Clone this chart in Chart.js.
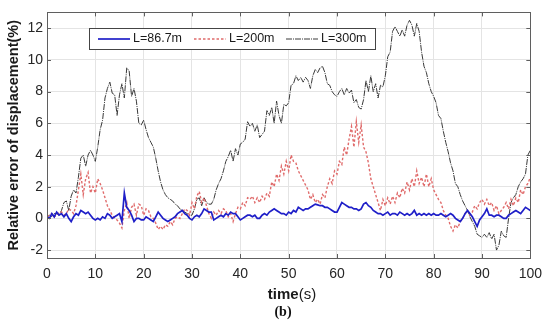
<!DOCTYPE html>
<html lang="en">
<head>
    <meta charset="UTF-8">
    <title>Relative error of displacement</title>
    <script src="https://cdn.jsdelivr.net/npm/chart.js"></script>
    <style>
        body {
            margin: 0;
            background: #fff;
        }
        .wrap {
            position: relative;
            width: 550px;
            height: 323px;
            font-family: "Liberation Sans", Arial, sans-serif;
        }
        #chart {
            position: absolute;
            left: 0;
            top: 0;
        }
        .xtitle {
            position: absolute;
            left: 292px;
            top: 285px;
            transform: translateX(-50%);
            font-size: 15px;
            line-height: 17px;
            color: #1a1a1a;
            white-space: nowrap;
        }
        .xtitle b { font-weight: bold; }
        .caption {
            position: absolute;
            left: 283px;
            top: 304px;
            transform: translateX(-50%);
            font-family: "Liberation Serif", "Times New Roman", serif;
            font-weight: bold;
            font-size: 14px;
            line-height: 16px;
            color: #111;
        }
    </style>
</head>
<body>
    <div class="wrap">
        <canvas id="chart" width="550" height="323"></canvas>
        <div class="xtitle"><b>time</b>(s)</div>
        <div class="caption">(b)</div>
    </div>

    <script>
        // sampled every 0.5 s, from 0 to 100 s
        const step = 0.5;
        const xTicks = [0, 10, 20, 30, 40, 50, 60, 70, 80, 90, 100];
        const yTicks = [-2, 0, 2, 4, 6, 8, 10, 12];
        const seriesNames = ['L=86.7m', 'L=200m', 'L=300m'];

        const l867 = [
            0.1, 0.0, 0.3, 0.1, 0.4, 0.2, 0.3, 0.1, 0.3, 0.0,
            -0.2, 0.1, 0.3, 0.2, 0.5, 0.4, 0.3, 0.4, 0.2, 0.0,
            -0.1, 0.0, -0.1, 0.1, 0.0, 0.3, 0.2, 0.0, 0.1, 0.2,
            0.3, -0.2, 1.6, 0.7, 0.5, 0.2, -0.2, 0.0, 0.0, -0.1,
            -0.1, 0.1, 0.0, -0.1, -0.2, 0.1, 0.4, 0.2, 0.0, -0.1,
            -0.2, -0.1, 0.0, 0.1, 0.3, 0.4, 0.5, 0.3, 0.2, 0.0,
            -0.1, 0.1, 0.2, 0.1, 0.3, 0.6, 0.5, 0.4, 0.4, -0.1,
            0.0, 0.1, 0.2, 0.1, 0.3, 0.2, 0.4, 0.3, 0.3, 0.1,
            -0.1, 0.0, 0.1, 0.2, 0.2, 0.1, 0.2, 0.0, 0.0, 0.2,
            0.3, 0.2, 0.4, 0.5, 0.6, 0.5, 0.4, 0.3, 0.3, 0.2,
            0.4, 0.3, 0.5, 0.4, 0.7, 0.6, 0.5, 0.6, 0.6, 0.7,
            0.8, 0.9, 0.85, 0.8, 0.8, 0.7, 0.7, 0.6, 0.5, 0.4,
            0.4, 0.7, 1.0, 0.9, 0.8, 0.7, 0.7, 0.6, 0.6, 0.5,
            0.6, 0.9, 1.0, 0.8, 0.7, 0.5, 0.4, 0.3, 0.3, 0.2,
            0.3, 0.4, 0.2, 0.3, 0.3, 0.2, 0.4, 0.3, 0.2, 0.3,
            0.2, 0.3, 0.5, 0.2, 0.3, 0.2, 0.3, 0.2, 0.3, 0.2,
            0.3, 0.2, 0.2, 0.3, 0.2, 0.1, 0.2, 0.3, 0.2, 0.0,
            -0.1, -0.2, 0.0, 0.3, 0.5, 0.3, 0.1, -0.2, -0.5, -0.1,
            0.1, 0.3, 0.6, 0.2, 0.2, 0.1, 0.2, 0.2, 0.1, 0.0,
            0.0, 0.2, 0.3, 0.4, 0.5, 0.4, 0.3, 0.5, 0.7, 0.6,
            0.5
        ];

        const l200 = [
            0.1, 0.2, 0.3, 0.1, 0.2, 0.4, 0.4, 0.2, 0.3, 0.6,
            0.5, 0.3, 0.8, 1.8, 2.8, 1.5, 2.5, 2.9, 1.6, 2.0,
            1.6, 2.5, 2.2, 1.8, 1.3, 0.8, 0.5, 0.2, 0.0, -0.1,
            -0.3, -0.6, 0.5, 1.0, 0.0, 0.7, 0.9, 0.2, 0.9, 0.8,
            0.2, 0.6, 0.5, 0.1, 0.0, -0.3, -0.7, -0.5, -0.7, -0.4,
            -0.5, -0.2, -0.4, 0.0, 0.1, 0.0, 0.3, 0.6, 0.5, 0.2,
            1.0, 0.6, 1.4, 1.7, 1.0, 1.3, 0.8, 0.3, 0.0, 0.4,
            0.2, 0.5, 0.3, 0.6, 0.5, 0.1, 0.3, -0.2, 0.3, 0.7,
            0.6, 1.0, 0.8, 1.3, 1.2, 1.4, 1.0, 1.3, 1.0, 1.4,
            1.2, 1.6, 1.4, 2.3, 2.0, 2.8, 2.4, 3.3, 2.8, 3.6,
            3.0, 4.0, 3.6, 3.5, 3.0, 2.7, 2.4, 2.1, 1.8, 1.2,
            1.5, 1.0, 1.2, 0.9, 1.5, 1.3, 2.0, 2.5, 2.2, 3.0,
            2.8, 3.6, 3.4, 4.5, 4.0, 5.0, 5.8, 4.5, 6.1, 4.8,
            5.9, 4.5, 4.2, 3.5, 2.5, 2.0, 1.5, 1.0, 0.5, 1.2,
            0.8, 1.3, 0.9, 1.4, 1.0, 1.6, 1.3, 1.9, 1.6, 2.3,
            1.8, 2.5, 2.0, 3.0, 2.2, 2.6, 2.0, 2.8, 2.0, 2.5,
            1.8, 1.5, 1.2, 1.0, 0.5, 0.2, 0.0, -0.5, -0.8, -0.4,
            -0.6, -0.2, 0.0, 0.3, 0.5, 0.2, 0.4, 0.8, 0.6, 1.0,
            1.2, 0.9, 1.2, 0.8, 1.0, 0.5, 0.8, 0.3, 0.5, 0.7,
            1.0, 0.6, 1.2, 0.8, 1.3, 1.0, 1.8, 1.5, 2.0, 2.2,
            2.6
        ];

        const l300 = [
            0.1, 0.2, 0.1, 0.3, 0.3, 0.2, 0.5, 1.0, 1.1, 0.5,
            1.4, 1.8, 1.6, 2.6, 3.8, 4.0, 3.3, 4.0, 4.3, 4.0,
            3.6, 4.5, 5.6, 6.2, 7.6, 8.2, 8.6, 7.9, 7.8, 6.5,
            7.8, 8.5, 7.6, 9.5, 9.3, 7.7, 8.2, 7.4, 6.0, 5.9,
            6.2, 5.6, 5.1, 4.8, 4.5, 3.8, 3.0, 2.3, 1.8, 1.5,
            1.3, 1.2, 1.1, 0.9, 0.8, 0.6, 0.5, 0.4, 0.3, 0.2,
            0.2, 0.6, 1.2, 1.3, 0.8, 1.3, 1.0, 0.9, 0.9, 1.2,
            1.8, 2.2, 2.5, 3.0, 3.6, 3.9, 4.3, 3.6, 4.4, 4.0,
            4.7, 4.8, 5.0, 6.1, 5.8, 6.0, 5.5, 5.9, 5.1, 5.3,
            5.5, 6.8, 6.5, 7.0, 6.0, 7.4, 6.5, 6.0, 7.2, 7.1,
            7.3, 8.4, 8.5, 9.0, 8.7, 8.9, 8.6, 8.9, 8.7, 8.2,
            9.0, 9.4, 9.2, 9.5, 9.6, 9.2, 8.5, 8.4, 8.0, 7.8,
            7.7, 8.0, 8.2, 7.8, 8.2, 7.9, 8.1, 7.3, 7.5, 7.0,
            6.9, 7.5, 8.7, 8.0, 9.0, 8.0, 8.5, 7.6, 8.4, 8.3,
            9.0, 10.2, 10.5, 11.8, 12.1, 11.8, 11.5, 11.9, 11.5, 12.2,
            12.5, 12.2, 11.5, 12.3, 11.8, 10.5, 9.6, 9.2, 8.5, 8.0,
            7.7, 7.3, 6.5, 6.3, 5.5, 4.8, 4.2, 3.5, 3.0, 2.2,
            2.0, 1.5, 1.1, 0.8, 0.5, 0.1, -0.2, -0.5, -1.0, -1.1,
            -1.2, -1.0, -1.2, -0.9, -1.3, -1.0, -2.0, -1.7, -0.8, -1.1,
            -1.2, 0.0, 1.0, 1.3, 1.5, 2.0, 2.3, 2.5, 2.8, 4.0,
            4.3
        ];

        const toPoints = arr => arr.map((v, i) => ({ x: i * step, y: v }));

        // MATLAB style frame, inward ticks and a boxed legend inside the axes
        const framePlugin = {
            id: 'frame',
            afterDatasetsDraw(chart) {
                const { ctx, chartArea: a, scales } = chart;
                ctx.save();
                ctx.strokeStyle = '#5f5f5f';
                ctx.lineWidth = 1;
                ctx.beginPath();
                xTicks.forEach(t => {
                    const px = Math.round(scales.x.getPixelForValue(t)) + 0.5;
                    ctx.moveTo(px, a.bottom); ctx.lineTo(px, a.bottom - 4);
                    ctx.moveTo(px, a.top); ctx.lineTo(px, a.top + 4);
                });
                yTicks.forEach(t => {
                    const py = Math.round(scales.y.getPixelForValue(t)) + 0.5;
                    ctx.moveTo(a.left, py); ctx.lineTo(a.left + 4, py);
                    ctx.moveTo(a.right, py); ctx.lineTo(a.right - 4, py);
                });
                ctx.stroke();
                ctx.strokeRect(Math.round(a.left) + 0.5, Math.round(a.top) + 0.5,
                    Math.round(a.right - a.left), Math.round(a.bottom - a.top));

                // legend
                const lx = 89, ly = 28, lw = 286, lh = 21;
                ctx.fillStyle = '#fff';
                ctx.fillRect(lx, ly, lw, lh);
                ctx.strokeStyle = '#444';
                ctx.strokeRect(lx + 0.5, ly + 0.5, lw, lh);
                const starts = [98, 194, 286];
                ctx.font = '12.5px "Liberation Sans", Arial, sans-serif';
                ctx.textBaseline = 'middle';
                chart.data.datasets.forEach((ds, i) => {
                    const y = ly + lh / 2 + 0.5;
                    ctx.beginPath();
                    ctx.strokeStyle = ds.borderColor;
                    ctx.lineWidth = ds.borderWidth;
                    ctx.setLineDash(ds.borderDash || []);
                    ctx.moveTo(starts[i], y);
                    ctx.lineTo(starts[i] + 32, y);
                    ctx.stroke();
                    ctx.setLineDash([]);
                    ctx.fillStyle = '#1a1a1a';
                    ctx.fillText(ds.label, starts[i] + 35, y);
                });
                ctx.restore();
            }
        };

        const ctx = document.getElementById('chart').getContext('2d');
        new Chart(ctx, {
            type: 'line',
            data: {
                datasets: [{
                    label: seriesNames[0],
                    data: toPoints(l867),
                    borderColor: '#1f1fc8',
                    borderWidth: 1.7,
                    pointRadius: 0
                }, {
                    label: seriesNames[1],
                    data: toPoints(l200),
                    borderColor: '#e06b6b',
                    borderWidth: 1.4,
                    borderDash: [2.5, 2],
                    pointRadius: 0
                }, {
                    label: seriesNames[2],
                    data: toPoints(l300),
                    borderColor: '#3a3a3a',
                    borderWidth: 1,
                    borderDash: [6, 1, 1, 1],
                    pointRadius: 0
                }]
            },
            options: {
                responsive: false,
                animation: false,
                events: [],
                layout: { padding: { top: 10, right: 12, left: 0, bottom: 0 } },
                plugins: {
                    legend: { display: false },
                    tooltip: { enabled: false }
                },
                scales: {
                    x: {
                        type: 'linear',
                        min: 0,
                        max: 100,
                        afterBuildTicks: s => { s.ticks = xTicks.map(v => ({ value: v })); },
                        afterFit: s => { s.height = 65; },
                        grid: { color: '#e4e4e4', drawTicks: false },
                        border: { display: false },
                        ticks: {
                            padding: 8,
                            color: '#262626',
                            font: { family: '"Liberation Sans", Arial, sans-serif', size: 14 }
                        }
                    },
                    y: {
                        min: -2.5,
                        max: 13,
                        afterBuildTicks: s => { s.ticks = yTicks.map(v => ({ value: v })); },
                        afterFit: s => { s.width = 47; },
                        grid: { color: '#e4e4e4', drawTicks: false },
                        border: { display: false },
                        title: {
                            display: true,
                            text: 'Relative error of displacement(%)',
                            color: '#1a1a1a',
                            padding: { top: 5, bottom: 0 },
                            font: { family: '"Liberation Sans", Arial, sans-serif', size: 14.5, weight: 'bold' }
                        },
                        ticks: {
                            padding: 4,
                            color: '#262626',
                            font: { family: '"Liberation Sans", Arial, sans-serif', size: 14 }
                        }
                    }
                }
            },
            plugins: [framePlugin]
        });
    </script>
</body>
</html>
